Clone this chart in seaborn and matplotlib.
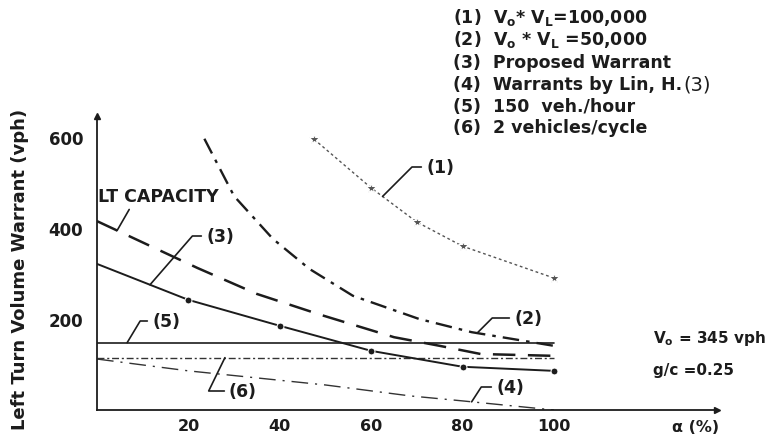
import numpy as np
import pandas as pd
import matplotlib
matplotlib.use("Agg")
import matplotlib.pyplot as plt
import seaborn as sns

# ---------------- data ----------------
x1 = [47.5, 60, 70, 80, 100]                 # (1) Vo*VL = 100,000
y1 = [595, 488, 413, 360, 290]
x2 = [23.5, 30, 38.5, 46.5, 56, 70.5, 82, 100]   # (2) Vo*VL = 50,000
y2 = [596, 470, 376, 310, 251, 200, 171, 141]
x3 = [0, 20, 40, 60, 80, 100]                # (3) Proposed warrant
y3 = [321, 242, 185, 130, 95, 86]
xL = [0, 22, 35, 49, 65, 75, 84, 100]        # LT capacity
yL = [415, 312, 255, 209, 160, 141, 123, 119]
x4 = [0, 20, 50, 68.5, 80, 100]              # (4) Warrants by Lin
y4 = [112, 86, 55, 31, 20, 0]
x5 = [0, 100]                                # (5) 150 veh/hour
y5 = [148, 148]
x6 = [0, 100]                                # (6) 2 vehicles/cycle
y6 = [115, 115]

x_ticks = [20, 40, 60, 80, 100]
y_ticks = [200, 400, 600]

legend_lines = [
    r"(1)  $\mathbf{V_o}$* $\mathbf{V_L}$=100,000",
    r"(2)  $\mathbf{V_o}$ * $\mathbf{V_L}$ =50,000",
    "(3)  Proposed Warrant",
    "(4)  Warrants by Lin, H.",
    "(5)  150  veh./hour",
    "(6)  2 vehicles/cycle",
]

# ---------------- style ----------------
sns.set_theme(style="white")
plt.rcParams["font.family"] = ["DejaVu Sans"]
plt.rcParams["mathtext.fontset"] = "dejavusans"
INK = "#1c1c1c"

W, H = 774, 439
fig = plt.figure(figsize=(W / 100, H / 100), dpi=100)
ax = fig.add_axes([97 / W, 28 / H, 620 / W, 294 / H])
ax.set_xlim(0, 135.7)
ax.set_ylim(0, 646)


def line(x, y, **kw):
    df = pd.DataFrame({"x": x, "y": y})
    sns.lineplot(data=df, x="x", y="y", ax=ax, sort=False, estimator=None, **kw)


line(x5, y5, color=INK, linewidth=1.2)
line(x6, y6, color="#333333", linewidth=1.0, linestyle=(0, (5, 2, 1.5, 2)))
line(x4, y4, color="#333333", linewidth=1.0, linestyle=(0, (12, 5, 1.5, 5)))
line(xL, yL, color=INK, linewidth=1.8, linestyle=(0, (9, 5)))
line(x3, y3, color=INK, linewidth=1.4, marker="o", markersize=5,
     markevery=[1, 2, 3, 4, 5])
line(x2, y2, color=INK, linewidth=1.7, linestyle=(0, (7, 3, 1.5, 3)))
line(x1, y1, color="#555555", linewidth=1.0, linestyle=(0, (2, 2)),
     marker="*", markersize=7)

# ---------------- axes ----------------
for s in ["top", "right"]:
    ax.spines[s].set_visible(False)
for s in ["left", "bottom"]:
    ax.spines[s].set_color(INK)
    ax.spines[s].set_linewidth(1.3)
ax.plot(1, 0, ">", color=INK, markersize=5, transform=ax.transAxes, clip_on=False)
ax.plot(0, 1, "^", color=INK, markersize=5, transform=ax.transAxes, clip_on=False)

ax.set_xticks(x_ticks)
ax.set_xticklabels([str(v) for v in x_ticks])
ax.set_yticks(y_ticks)
ax.set_yticklabels([str(v) for v in y_ticks])
ax.tick_params(axis="x", direction="inout", length=5, width=1.2, color=INK,
               pad=3.5, labelsize=11.5, labelcolor=INK)
ax.tick_params(axis="y", direction="out", length=3, width=1.2, color=INK,
               pad=7, labelsize=12, labelcolor=INK)
for lab in ax.get_xticklabels() + ax.get_yticklabels():
    lab.set_fontweight("bold")
ax.set_xlabel("")
ax.set_ylabel("")
ax.grid(False)

fig.text(20 / W, 1 - 269 / H, "Left Turn Volume Warrant (vph)", rotation=90,
         ha="center", va="center", fontsize=13, fontweight="bold", color=INK)
fig.text(672 / W, 1 - 428 / H, "α (%)", ha="left", va="center",
         fontsize=11.5, fontweight="bold", color=INK)

# ---------------- legend text block ----------------
ys = [17, 40, 63, 85, 107, 128]
texts = []
for t, yy in zip(legend_lines, ys):
    texts.append(fig.text(453 / W, 1 - yy / H, t, ha="left", va="center",
                          fontsize=12.5, fontweight="bold", color=INK))
fig.canvas.draw()
bb = texts[3].get_window_extent()
fig.text(bb.x1 / W + 0.002, 1 - 85 / H, "(3)", ha="left", va="center",
         fontsize=14, fontweight="normal", color=INK)

fig.text(653 / W, 1 - 339 / H, r"$\mathbf{V_o}$ = 345 vph", ha="left",
         va="center", fontsize=11, fontweight="bold", color=INK)
fig.text(653 / W, 1 - 370 / H, "g/c =0.25", ha="left", va="center",
         fontsize=11, fontweight="bold", color=INK)

# ---------------- leader annotations ----------------
anns = [
    ("(1)", x1, y1, 62.5, (426, 168), 45),
    ("(2)", x2, y2, 83.2, (514, 319), 45),
    ("(3)", x3, y3, 11.6, (206, 237), 49),
    ("(4)", x4, y4, 82.0, (496, 388), 57),
    ("(5)", x5, y5, 6.6, (152, 322), 59),
    ("(6)", x6, y6, 28.0, (229, 392), 64),
]
for lab, xs, yv, xt, (px, py), ang in anns:
    yt = float(np.interp(xt, xs, yv))
    ax.annotate(lab, xy=(xt, yt), xytext=(px, H - py), textcoords="figure pixels",
                ha="left", va="center", fontsize=12.5, fontweight="bold",
                color=INK, annotation_clip=False,
                arrowprops=dict(arrowstyle="-", color=INK, lw=1.2,
                                connectionstyle=f"angle,angleA=0,angleB={ang},rad=0",
                                relpos=(0, 0.5), shrinkA=1, shrinkB=0))

ytl = float(np.interp(4.4, xL, yL))
ax.annotate("LT CAPACITY", xy=(4.4, ytl), xytext=(98, H - 197),
            textcoords="figure pixels", ha="left", va="center", fontsize=12.5,
            fontweight="bold", color=INK, annotation_clip=False,
            arrowprops=dict(arrowstyle="-", color=INK, lw=1.2,
                            relpos=(0.28, 0), shrinkA=1, shrinkB=0))

fig.savefig("out.png", dpi=100)
